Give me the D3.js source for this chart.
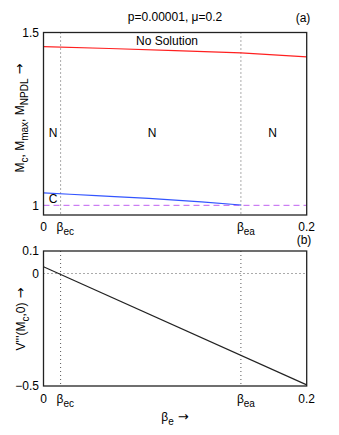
<!DOCTYPE html>
<html><head><meta charset="utf-8">
<script src="https://cdn.jsdelivr.net/npm/d3@7"></script>
<style>body{margin:0;background:#fff}svg{display:block}text{font-family:"Liberation Sans",Arial,sans-serif;font-size:12px;fill:#000}.arr{font-family:"DejaVu Sans",sans-serif;font-size:13px}</style>
</head><body>
<script>
// data
const betaEc = 0.013, betaEa = 0.15;
const redX = [0, 0.05, 0.1, 0.15, 0.2];
const redY = [1.459, 1.4535, 1.4475, 1.441, 1.4295];
const blueX = [0, 0.04, 0.08, 0.12, 0.15];
const blueY = [1.036, 1.028, 1.020, 1.010, 1.001];
const blackX = [0, 0.2];
const blackY = [0.030, -0.495];
const topYTicks = [1, 1.5];
const botYTicks = [-0.5, 0, 0.1];

const W = 339, H = 435;
const svg = d3.select("body").append("svg").attr("width", W).attr("height", H);
const L = 43.5, R = 306.7;
const x = d3.scaleLinear().domain([0, 0.2]).range([L, R]);
const y1 = d3.scaleLinear().domain([0.972, 1.5]).range([215, 32.5]);
const y2 = d3.scaleLinear().domain([-0.5, 0.1]).range([386, 251]);

function frame(y) {
  const [b, t] = y.range();
  svg.append("rect").attr("x", L).attr("y", t).attr("width", R - L).attr("height", b - t)
    .attr("fill", "none").attr("stroke", "#222").attr("stroke-width", 1.3);
}
function vgrid(y) {
  const [b, t] = y.range();
  [betaEc, betaEa].forEach(v => {
    svg.append("line").attr("x1", x(v)).attr("x2", x(v)).attr("y1", t).attr("y2", b)
      .attr("stroke", "#444").attr("stroke-width", 0.9).attr("stroke-dasharray", "1,3");
  });
}
vgrid(y1); vgrid(y2);
svg.append("line").attr("x1", L).attr("x2", R).attr("y1", y2(0)).attr("y2", y2(0))
  .attr("stroke", "#444").attr("stroke-width", 0.9).attr("stroke-dasharray", "1,3");

// magenta dashed at 1
svg.append("line").attr("x1", L).attr("x2", R).attr("y1", y1(1)).attr("y2", y1(1))
  .attr("stroke", "#c060f0").attr("stroke-width", 1).attr("stroke-dasharray", "6,4");

const line1 = d3.line().x(d => x(d[0])).y(d => y1(d[1])).curve(d3.curveMonotoneX);
const line1s = d3.line().x(d => x(d[0])).y(d => y1(d[1]));
const line2 = d3.line().x(d => x(d[0])).y(d => y2(d[1]));
svg.append("path").attr("d", line1s(d3.zip(redX, redY))).attr("fill", "none").attr("stroke", "#ff2020").attr("stroke-width", 1.1);
svg.append("path").attr("d", line1(d3.zip(blueX, blueY))).attr("fill", "none").attr("stroke", "#3355ff").attr("stroke-width", 1.1);
svg.append("path").attr("d", line2(d3.zip(blackX, blackY))).attr("fill", "none").attr("stroke", "#222").attr("stroke-width", 1.1);

frame(y1); frame(y2);

// y tick labels
function yTicks(y, ticks, fmt) {
  svg.append("g").selectAll("text").data(ticks).join("text")
    .attr("x", 39).attr("y", d => y(d) + 4.3).attr("text-anchor", "end").text(fmt);
}
yTicks(y1, topYTicks, d => d3.format("")(d));
yTicks(y2, botYTicks, d => d < 0 ? "\u2212" + Math.abs(d) : String(d));

// x tick labels
function xTicks(base) {
  svg.append("text").attr("x", x(0)).attr("y", base).attr("text-anchor", "middle").text("0");
  svg.append("text").attr("x", x(0.2)).attr("y", base).attr("text-anchor", "middle").text("0.2");
  [[betaEc, "ec"], [betaEa, "ea"]].forEach(([v, s]) => {
    const t = svg.append("text").attr("x", x(v) - 4).attr("y", base);
    t.append("tspan").text("\u03b2");
    t.append("tspan").attr("dy", 4).attr("font-size", "10px").text(s);
  });
}
xTicks(231); xTicks(403);

// titles and annotations
svg.append("text").attr("x", 175).attr("y", 21).attr("text-anchor", "middle").text("p=0.00001, \u03bc=0.2");
svg.append("text").attr("x", 303).attr("y", 22).attr("text-anchor", "middle").text("(a)");
svg.append("text").attr("x", 304).attr("y", 244).attr("text-anchor", "middle").text("(b)");
svg.append("text").attr("x", 167).attr("y", 45).attr("text-anchor", "middle").text("No Solution");
[[0.0072, "N"], [0.0825, "N"], [0.174, "N"]].forEach(([v, s]) => {
  svg.append("text").attr("x", x(v)).attr("y", 137).attr("text-anchor", "middle").text(s);
});
svg.append("text").attr("x", x(0.0072)).attr("y", 203).attr("text-anchor", "middle").text("C");

// x axis label
const xl = svg.append("text").attr("x", 175).attr("y", 421).attr("text-anchor", "middle");
xl.append("tspan").text("\u03b2");
xl.append("tspan").attr("dy", 4).attr("font-size", "10px").text("e");
xl.append("tspan").attr("dy", -4).attr("class", "arr").text(" \u2192");

// y axis labels
const yl1 = svg.append("text").attr("transform", "translate(24,118) rotate(-90)").attr("text-anchor", "middle");
yl1.append("tspan").text("M");
yl1.append("tspan").attr("dy", 4).attr("font-size", "10px").text("c");
yl1.append("tspan").attr("dy", -4).text(", M");
yl1.append("tspan").attr("dy", 4).attr("font-size", "10px").text("max");
yl1.append("tspan").attr("dy", -4).text(", M");
yl1.append("tspan").attr("dy", 4).attr("font-size", "10px").text("NPDL");
yl1.append("tspan").attr("dy", -4).attr("class", "arr").text(" \u2192");

const yl2 = svg.append("text").attr("transform", "translate(25,319) rotate(-90)").attr("text-anchor", "middle");
yl2.append("tspan").text("V'''(M");
yl2.append("tspan").attr("dy", 4).attr("font-size", "10px").text("c");
yl2.append("tspan").attr("dy", -4).text(",0)");
yl2.append("tspan").attr("class", "arr").text(" \u2192");
</script>
</body></html>
